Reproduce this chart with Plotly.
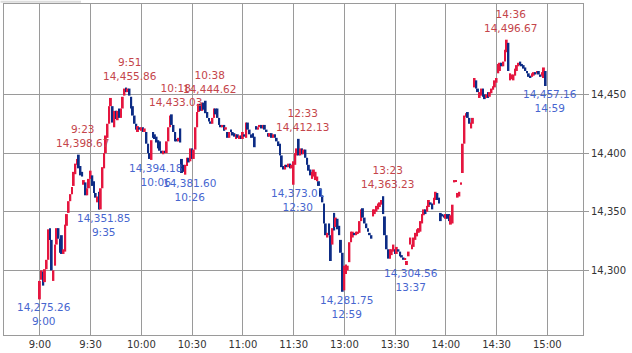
import plotly.graph_objects as go

# ---- data: 1-minute bars (morning 9:00-11:29, afternoon 12:30-14:59) ----
opens = [
    14275.26, 14292, 14299, 14290, 14301, 14309, 14336, 14326, 14291, 14304,
    14322, 14336, 14327, 14330, 14314, 14316, 14338, 14349, 14359, 14365,
    14372, 14382, 14390, 14398.67, 14389, 14384, 14373, 14375, 14364, 14370,
    14378, 14381, 14376, 14366, 14358, 14367, 14352, 14370, 14387, 14400,
    14413, 14425, 14440, 14440, 14422, 14436, 14428, 14438, 14430, 14438,
    14449, 14455.86, 14452, 14455, 14448, 14440, 14432, 14425, 14418, 14422,
    14419, 14422, 14418, 14418, 14408, 14400, 14394.18, 14418, 14416, 14414,
    14411, 14410, 14402, 14399, 14402, 14400, 14410, 14422, 14433.03, 14424,
    14418, 14412, 14410, 14421, 14395, 14390, 14381.6, 14389, 14396, 14393,
    14404, 14395, 14403, 14422, 14435, 14442, 14436, 14443, 14444.62, 14435,
    14430, 14427, 14425, 14430, 14438, 14438, 14430, 14424, 14422, 14424,
    14420, 14418, 14413, 14420, 14418, 14417, 14412, 14416, 14412, 14415,
    14412, 14416, 14413, 14426, 14420, 14416, 14417, 14414, 14423, 14420,
    14422, 14424, 14421, 14424, 14420, 14417, 14414, 14417, 14413, 14416,
    14413, 14410, 14408, 14398, 14389, 14386, 14390, 14388, 14391, 14387,
    14373.01, 14390, 14398, 14412.13, 14398, 14404, 14399, 14403, 14396, 14390,
    14386, 14378, 14380, 14377, 14376, 14376, 14370, 14364, 14357, 14340,
    14328, 14340, 14330, 14322, 14349, 14337, 14344, 14338, 14326, 14315,
    14283, 14297, 14300, 14307, 14324, 14328, 14332, 14330, 14331, 14332,
    14342, 14353, 14345, 14340, 14336, 14332, 14330, 14346, 14348, 14350,
    14352, 14354, 14356, 14363.23, 14346, 14330, 14318, 14310, 14313, 14316,
    14318, 14314, 14318, 14316, 14313, 14311, 14309, 14304.56, 14312, 14322,
    14318, 14320, 14326, 14329, 14332, 14333, 14340, 14347, 14352, 14350,
    14354, 14358, 14357, 14356, 14360, 14366, 14362, 14349, 14348, 14347,
    14344, 14348, 14348, 14339, 14340, 14375, 14376, 14362, 14363, 14373,
    14383, 14408, 14431, 14435, 14430, 14421, 14425, 14456, 14462, 14455,
    14447, 14449, 14455, 14450, 14447, 14452, 14448, 14451, 14454, 14456,
    14460, 14468, 14470, 14477, 14474, 14478, 14486, 14494, 14462, 14463,
    14462, 14466, 14470, 14474, 14478, 14476, 14475, 14473, 14470, 14468,
    14466, 14465, 14466, 14469, 14468, 14470, 14467, 14466, 14464, 14470,
]
closes = [
    14291, 14300, 14287, 14301, 14309, 14335, 14326, 14300, 14300, 14322,
    14336, 14327, 14315, 14314, 14318, 14339, 14348, 14359, 14365, 14371,
    14384, 14391, 14395, 14387, 14381, 14380, 14377, 14364, 14370, 14378,
    14385, 14372, 14366, 14362, 14363, 14351.85, 14370, 14388, 14400, 14415,
    14425, 14440, 14447, 14426, 14436, 14429, 14436, 14430, 14438, 14448,
    14455, 14452, 14455, 14449, 14438, 14432, 14425, 14420, 14423, 14420,
    14422, 14418, 14421, 14408, 14400, 14395, 14411, 14413, 14412, 14409,
    14404, 14402, 14400, 14402, 14400, 14410, 14422, 14432, 14424, 14418,
    14410, 14410, 14413, 14409, 14383, 14384, 14390, 14396, 14392, 14404,
    14395, 14403, 14422, 14435, 14442, 14436, 14443, 14437, 14434, 14430,
    14427, 14425, 14430, 14438, 14433, 14430, 14424, 14422, 14424, 14419,
    14422, 14413, 14418, 14418, 14415, 14414, 14416, 14413, 14415, 14412,
    14418, 14414, 14426, 14420, 14416, 14413, 14413, 14405, 14420, 14422,
    14424, 14421, 14424, 14420, 14418, 14414, 14417, 14413, 14416, 14413,
    14410, 14406, 14398, 14388, 14386, 14390, 14388, 14391, 14387, 14390,
    14393, 14400, 14404, 14398, 14404, 14399, 14403, 14396, 14390, 14385,
    14381, 14384, 14386, 14384, 14380, 14372, 14363, 14358, 14340, 14330,
    14332, 14330, 14308, 14336, 14334, 14345, 14335, 14330, 14315, 14281.75,
    14304, 14305, 14304, 14324, 14333, 14333, 14330, 14333, 14333, 14342,
    14352, 14345, 14340, 14336, 14333, 14330, 14327, 14352, 14352, 14355,
    14357, 14358, 14360, 14348, 14330, 14318, 14310, 14318, 14318, 14322,
    14314, 14320, 14316, 14312, 14311, 14309, 14310, 14308, 14316, 14328,
    14322, 14328, 14332, 14335, 14336, 14342, 14348, 14352, 14348, 14355,
    14360, 14356, 14352, 14362, 14367, 14360, 14357, 14342, 14346, 14345,
    14348, 14344, 14342, 14347, 14356, 14377, 14377, 14366, 14367, 14375,
    14408, 14432, 14434, 14430, 14425, 14426, 14430, 14464, 14455, 14452,
    14452, 14455, 14448, 14446, 14450, 14447, 14452, 14455, 14457, 14462,
    14464, 14476, 14477, 14474, 14478, 14488, 14496.67, 14470, 14468, 14467,
    14467, 14472, 14475, 14477, 14475, 14474, 14472, 14470, 14468, 14465,
    14464, 14468, 14469, 14467, 14470, 14467, 14465, 14469, 14473, 14457.16,
]
tick_labels = ["9:00", "9:30", "10:00", "10:30", "11:00", "11:30",
               "13:00", "13:30", "14:00", "14:30", "15:00"]
price_ticks = [14300, 14350, 14400, 14450]
high_times = ["9:23", "9:51", "10:18", "10:38", "12:33", "13:23", "14:36"]
high_values = [14398.67, 14455.86, 14433.03, 14444.62, 14412.13, 14363.23, 14496.67]
low_times = ["9:00", "9:35", "10:06", "10:26", "12:30", "12:59", "13:37", "14:59"]
low_values = [14275.26, 14351.85, 14394.18, 14381.60, 14373.01, 14281.75, 14304.56, 14457.16]

UP = "#e5163f"
DOWN = "#0d2c85"
TXT_UP = "#c4454a"
TXT_DN = "#4766cf"
GRID = "#9a9a9a"


def slot(t):
    """Position on the session axis (lunch break 11:30-12:30 removed)."""
    h, m = map(int, t.split(":"))
    mins = h * 60 + m - 540
    if mins >= 210:
        mins -= 60
    return mins


times = [f"{h}:{m:02d}" for h in range(9, 12) for m in range(60) if (h, m) < (11, 30)]
times += [f"{h}:{m:02d}" for h in range(12, 15) for m in range(60) if (h, m) >= (12, 30)]
xs = [slot(t) for t in times]

bases = [min(o, c) for o, c in zip(opens, closes)]
heights = [max(abs(c - o), 1.0) for o, c in zip(opens, closes)]
colors = [UP if c >= o else DOWN for o, c in zip(opens, closes)]

fig = go.Figure()
fig.add_trace(go.Bar(x=xs, y=heights, base=bases, width=1.15,
                     marker=dict(color=colors, line=dict(width=0)),
                     customdata=times, hoverinfo="skip"))

annotations = []
for t, v in zip(high_times, high_values):
    annotations.append(dict(x=slot(t), y=v, text=f"{t}<br>{v:,.2f}", showarrow=False,
                            yanchor="bottom", xanchor="center", xshift=4, yshift=4,
                            font=dict(family="DejaVu Sans", size=10.5, color=TXT_UP)))
for t, v in zip(low_times, low_values):
    annotations.append(dict(x=slot(t), y=v, text=f"{v:,.2f}<br>{t}", showarrow=False,
                            yanchor="top", xanchor="center", xshift=4, yshift=0,
                            font=dict(family="DejaVu Sans", size=10.5, color=TXT_DN)))

fig.update_layout(
    width=632, height=353,
    margin=dict(l=3, r=49, t=3, b=17),
    paper_bgcolor="white", plot_bgcolor="white",
    showlegend=False,
    annotations=annotations,
    font=dict(family="DejaVu Sans", size=10, color="#333333"),
    shapes=[dict(type="rect", xref="paper", yref="paper",
                 x0=-0.006, x1=0.133, y0=1.004, y1=1.01,
                 fillcolor="#dcdcdc", line=dict(width=0))],
)
fig.update_xaxes(range=[-21.2, 321.1], tickmode="array",
                 tickvals=[slot(t) for t in tick_labels], ticktext=tick_labels,
                 showgrid=True, gridcolor=GRID, gridwidth=1,
                 showline=True, linecolor=GRID, mirror=True, zeroline=False,
                 ticks="", tickfont=dict(size=10, color="#333333"))
fig.update_yaxes(range=[14244.9, 14527.1], side="right", tickmode="array",
                 tickvals=price_ticks, ticktext=[f"{p:,}" for p in price_ticks],
                 showgrid=True, gridcolor=GRID, gridwidth=1,
                 showline=True, linecolor=GRID, mirror=True, zeroline=False,
                 ticks="outside", ticklen=5, tickcolor=GRID,
                 tickfont=dict(size=10, color="#333333"))

fig.write_html("out.html")
